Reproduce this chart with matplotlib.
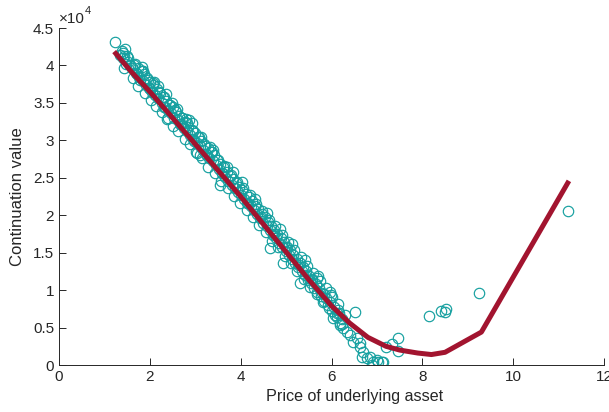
import matplotlib.pyplot as plt
from matplotlib.ticker import FixedLocator

plt.rcParams['font.family'] = ['Liberation Sans', 'DejaVu Sans']

# simulated paths: price of underlying vs continuation value (x1e4)
price = [1.23, 1.35, 1.41, 1.42, 1.45, 1.48, 1.52, 1.56, 1.57, 1.60, 1.65, 1.69, 1.73, 1.77, 1.78,
         1.80, 1.83, 1.84, 1.87, 1.91, 1.94, 1.98, 2.01, 2.05, 2.08, 2.10, 2.12, 2.15, 2.19,
         2.22, 2.26, 2.29, 2.33, 2.35, 2.36, 2.40, 2.40, 2.43, 2.47, 2.50, 2.54, 2.57, 2.60,
         2.61, 2.64, 2.68, 2.71, 2.75, 2.78, 2.82, 2.85, 2.86, 2.89, 2.92, 2.93, 2.96, 2.99,
         3.03, 3.04, 3.06, 3.10, 3.10, 3.13, 3.17, 3.20, 3.24, 3.27, 3.31, 3.33, 3.34, 3.38,
         3.41, 3.45, 3.48, 3.52, 3.55, 3.55, 3.59, 3.62, 3.66, 3.69, 3.73, 3.76, 3.80, 3.83,
         3.83, 3.87, 3.90, 3.94, 3.97, 4.01, 4.04, 4.08, 4.11, 4.15, 4.18, 4.22, 4.25, 4.29,
         4.32, 4.36, 4.39, 4.43, 4.46, 4.50, 4.53, 4.57, 4.60, 4.64, 4.65, 4.67, 4.71, 4.74,
         4.78, 4.81, 4.85, 4.88, 4.92, 4.93, 4.95, 4.99, 5.02, 5.06, 5.09, 5.13, 5.16, 5.20,
         5.23, 5.27, 5.30, 5.31, 5.34, 5.37, 5.41, 5.44, 5.48, 5.51, 5.55, 5.58, 5.62, 5.65,
         5.68, 5.69, 5.72, 5.76, 5.80, 5.84, 5.88, 5.92, 5.96, 6.01, 6.01, 6.04, 6.06, 6.11,
         6.12, 6.17, 6.19, 6.19, 6.24, 6.26, 6.34, 6.41, 6.48, 6.52, 6.56, 6.63, 6.63, 6.67,
         6.70, 6.78, 6.85, 6.89, 6.92, 7.00, 7.03, 7.11, 7.14, 7.20, 7.33, 7.47, 7.47, 8.15,
         8.41, 8.50, 8.52, 9.25, 11.21]
cont_value = [4.31, 4.14, 4.17, 4.12, 4.22, 4.02, 4.10, 4.01, 4.00, 3.97, 4.01, 3.90, 3.96, 3.84, 3.80,
              3.92, 3.98, 3.79, 3.88, 3.74, 3.83, 3.70, 3.78, 3.65, 3.74, 3.78, 3.60, 3.68, 3.57,
              3.63, 3.50, 3.58, 3.45, 3.62, 3.52, 3.41, 3.30, 3.47, 3.36, 3.44, 3.30, 3.38, 3.42,
              3.27, 3.33, 3.22, 3.30, 3.16, 3.24, 3.12, 3.18, 3.27, 3.07, 3.14, 3.23, 3.02, 3.10,
              2.97, 2.83, 3.05, 2.92, 2.81, 2.99, 2.87, 2.95, 2.82, 2.90, 2.77, 2.91, 2.84, 2.72,
              2.80, 2.67, 2.74, 2.62, 2.69, 2.40, 2.56, 2.64, 2.51, 2.58, 2.46, 2.53, 2.41, 2.48,
              2.58, 2.36, 2.43, 2.31, 2.38, 2.27, 2.34, 2.22, 2.29, 2.17, 2.24, 2.12, 2.19, 2.07,
              2.13, 2.01, 2.08, 1.96, 2.02, 1.90, 1.97, 1.85, 1.91, 1.80, 1.56, 1.86, 1.74, 1.80,
              1.69, 1.75, 1.63, 1.69, 1.58, 1.36, 1.64, 1.52, 1.58, 1.47, 1.53, 1.41, 1.47, 1.36,
              1.42, 1.31, 1.36, 1.09, 1.25, 1.31, 1.20, 1.25, 1.14, 1.19, 1.09, 1.14, 1.03, 1.08,
              1.16, 0.98, 1.03, 0.92, 0.96, 0.86, 0.90, 0.80, 0.84, 0.72, 0.91, 0.63, 0.78, 0.64,
              0.69, 0.70, 0.56, 0.53, 0.55, 0.49, 0.44, 0.40, 0.31, 0.71, 0.36, 0.24, 0.29, 0.11,
              0.17, 0.09, 0.11, 0.00, 0.04, 0.07, 0.04, 0.04, 0.04, 0.24, 0.28, 0.36, 0.19, 0.65,
              0.72, 0.71, 0.75, 0.96, 2.06]

# more paths, lower and upper edge of the cloud
price_b = [1.38, 1.44, 1.50, 1.62, 1.67, 1.75, 1.82, 1.89, 1.96, 2.03, 2.07, 2.14, 2.20, 2.27,
           2.31, 2.38, 2.45, 2.52, 2.56, 2.63, 2.70, 2.77, 2.81, 2.88, 2.95, 3.01, 3.08, 3.15,
           3.22, 3.29, 3.36, 3.43, 3.50, 3.57, 3.64, 3.71, 3.78, 3.85, 3.92, 3.99, 4.06, 4.13,
           4.20, 4.27, 4.34, 4.41, 4.48, 4.55, 4.62, 4.69, 4.76, 4.83, 4.90, 4.97, 5.04, 5.11,
           5.18, 5.25, 5.32, 5.39, 5.46, 5.53, 5.60, 5.67, 5.74, 5.81, 5.87, 5.94, 5.99, 6.08,
           6.14, 6.22, 6.30]
cont_value_b = [4.19, 3.97, 4.12, 3.83, 4.02, 3.73, 3.92, 3.63, 3.81, 3.54, 3.76, 3.46, 3.65, 3.38,
                3.58, 3.29, 3.47, 3.19, 3.41, 3.12, 3.30, 3.02, 3.23, 2.95, 3.12, 2.85, 3.05, 2.76,
                2.93, 2.65, 2.84, 2.56, 2.74, 2.46, 2.66, 2.37, 2.54, 2.26, 2.45, 2.17, 2.36, 2.07,
                2.27, 1.98, 2.15, 1.87, 2.06, 1.77, 1.94, 1.66, 1.86, 1.57, 1.73, 1.45, 1.64, 1.36,
                1.53, 1.25, 1.44, 1.15, 1.32, 1.04, 1.23, 0.95, 1.12, 0.84, 1.03, 0.76, 0.93, 0.67,
                0.81, 0.61, 0.67]

price_c = [1.40, 1.53, 1.71, 1.86, 2.00, 2.17, 2.32, 2.48, 2.66, 2.79, 2.98, 3.12, 3.26, 3.40,
           3.58, 3.70, 3.88, 4.03, 4.17, 4.31, 4.45, 4.58, 4.73, 4.87, 5.00, 5.14, 5.28, 5.42,
           5.56, 5.70, 5.83, 5.97, 6.15]
cont_value_c = [4.10, 4.04, 3.89, 3.93, 3.69, 3.73, 3.45, 3.50, 3.22, 3.29, 2.99, 3.05, 2.80, 2.87,
                2.57, 2.65, 2.37, 2.44, 2.16, 2.22, 1.97, 2.03, 1.75, 1.81, 1.56, 1.62, 1.34, 1.40,
                1.15, 1.19, 0.95, 0.97, 0.74]

# regression estimate of the continuation value
fit_price = [1.25, 1.6, 2.0, 2.5, 3.0, 3.5, 4.0, 4.5, 5.0, 5.5, 6.0, 6.4, 6.8, 7.2, 7.5,
             7.9, 8.2, 8.5, 9.3, 11.2]
fit_value = [4.16, 3.91, 3.65, 3.30, 2.95, 2.60, 2.25, 1.88, 1.51, 1.14, 0.79, 0.56, 0.37,
             0.25, 0.20, 0.16, 0.14, 0.17, 0.44, 2.43]

fig = plt.figure(figsize=(6.09, 4.12), dpi=100)
ax = fig.add_axes([0.0969, 0.114, 0.8949, 0.818])

xs = price + price_b + price_c
ys = [v * 1e4 for v in cont_value + cont_value_b + cont_value_c]
ax.plot(xs, ys, 'o', mfc='none', mec='#15a0a0', ms=7.5, mew=0.85, linestyle='none')
ax.plot(fit_price, [v * 1e4 for v in fit_value], color='#A2142F', lw=3.6)

ax.set_xlim(0, 12)
ax.set_ylim(0, 45000)
ax.xaxis.set_major_locator(FixedLocator([0, 2, 4, 6, 8, 10, 12]))
yt = [0, 5000, 10000, 15000, 20000, 25000, 30000, 35000, 40000, 45000]
ax.set_yticks(yt)
ax.set_yticklabels(['%g' % (t / 1e4) for t in yt])

gray = '#262626'
for s in ['top', 'right']:
    ax.spines[s].set_visible(False)
for s in ['left', 'bottom']:
    ax.spines[s].set_color(gray)
    ax.spines[s].set_linewidth(0.7)
ax.tick_params(direction='in', length=5, width=0.7, colors=gray, labelsize=11)

ax.set_xlabel('Price of underlying asset', fontsize=11.6, color=gray)
ax.xaxis.set_label_coords(0.543, -0.072)
ax.set_ylabel('Continuation value', fontsize=12, color=gray)
ax.yaxis.set_label_coords(-0.062, 0.5)

ax.text(0.0, 1.005, '\u00d710', transform=ax.transAxes, fontsize=11, color=gray,
        ha='left', va='bottom')
ax.text(0.047, 1.035, '4', transform=ax.transAxes, fontsize=8, color=gray,
        ha='left', va='bottom')

fig.savefig('out.png', dpi=100)
